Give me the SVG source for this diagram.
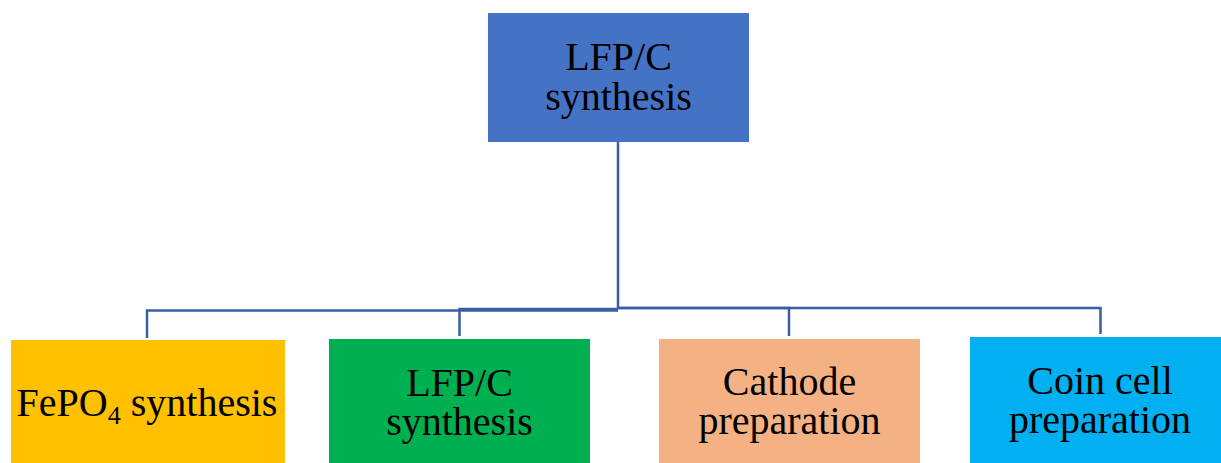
<svg xmlns="http://www.w3.org/2000/svg" width="1221" height="463" viewBox="0 0 1221 463">
<style>
.t{font-family:"Liberation Serif","Times New Roman",serif;font-size:40px;fill:#000;text-anchor:middle}
.c{fill:none;stroke:#3A5EA6;stroke-width:2.5}
</style>
<rect width="1221" height="463" fill="#fff"/>
<g id="connectors">
<path class="c" d="M618,142 V309"/>
<path class="c" d="M618,310.5 H147 V338"/>
<path class="c" d="M618,309 H459.5 V336"/>
<path class="c" d="M618,308 H789 V336"/>
<path class="c" d="M618,308 H1100.5 V334"/>
</g>
<g id="top">
<rect x="488" y="13" width="261" height="129" fill="#4472C4"/>
<text class="t" x="618.5" y="70">LFP/C</text>
<text class="t" x="618.5" y="110">synthesis</text>
</g>
<g id="fepo4">
<rect x="11" y="340" width="274" height="123" fill="#FFC000"/>
<text class="t" x="147" y="416">FePO<tspan font-size="26" dy="8">4</tspan><tspan dy="-8"> synthesis</tspan></text>
</g>
<g id="lfpc">
<rect x="329" y="339" width="261" height="124" fill="#00B050"/>
<text class="t" x="459.5" y="396">LFP/C</text>
<text class="t" x="459.5" y="435">synthesis</text>
</g>
<g id="cathode">
<rect x="659" y="339" width="261" height="124" fill="#F4B183"/>
<text class="t" x="789.5" y="395">Cathode</text>
<text class="t" x="789.5" y="434">preparation</text>
</g>
<g id="coin">
<rect x="970" y="337" width="251" height="126" fill="#00B0F0"/>
<text class="t" x="1100" y="394">Coin cell</text>
<text class="t" x="1100" y="433">preparation</text>
</g>
</svg>
